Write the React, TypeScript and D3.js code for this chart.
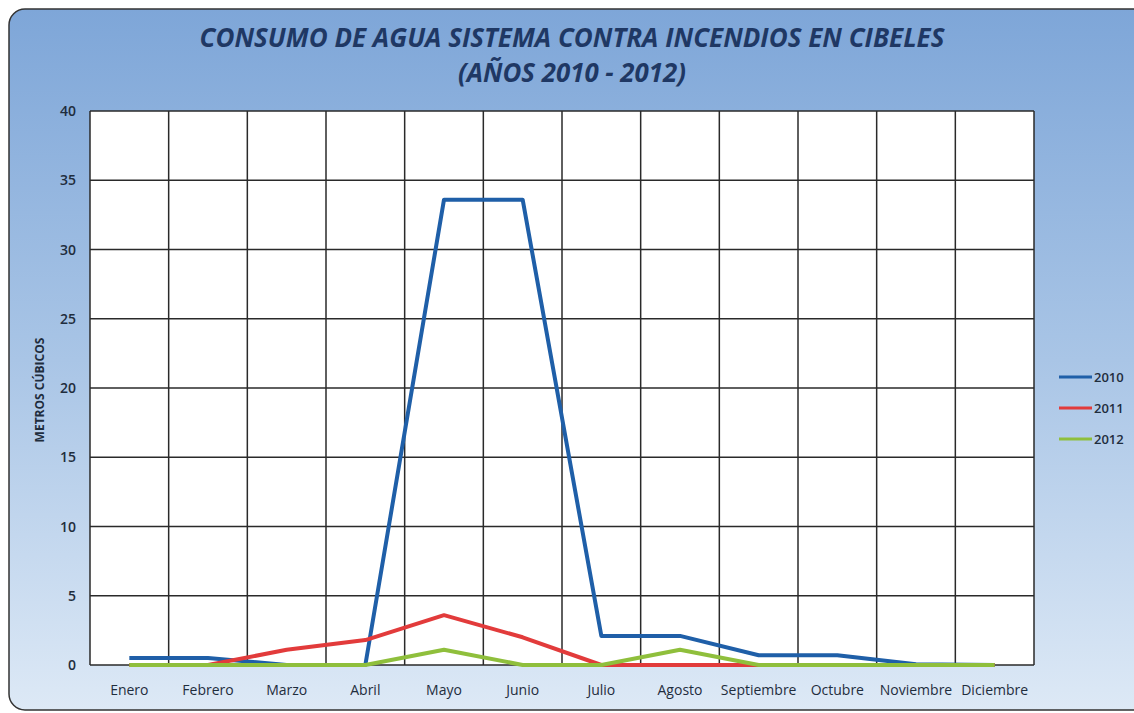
import React from "react";
import * as d3 from "d3";

const months = ["Enero","Febrero","Marzo","Abril","Mayo","Junio","Julio","Agosto","Septiembre","Octubre","Noviembre","Diciembre"];
const s2010 = [0.5, 0.5, 0, 0, 33.6, 33.6, 2.1, 2.1, 0.7, 0.7, 0.05, 0];
const s2011 = [0, 0, 1.1, 1.8, 3.6, 2.0, 0, 0, 0, 0, 0, 0];
const s2012 = [0, 0, 0, 0, 1.1, 0, 0, 1.1, 0, 0, 0, 0];
const yTicks = [0, 5, 10, 15, 20, 25, 30, 35, 40];
const seriesNames = ["2010", "2011", "2012"];
const seriesColors = ["#1f5fa8", "#e23b3b", "#8fbf3c"];

export default function App() {
  const W = 1134, H = 713;
  const left = 90, right = 1034, top = 111, bottom = 665;
  const x = d3.scaleBand().domain(months).range([left, right]);
  const y = d3.scaleLinear().domain([0, 40]).range([bottom, top]);
  const line = d3.line<number>().x((_, i) => (x(months[i]) as number) + x.bandwidth() / 2).y(d => y(d));
  const all = [s2010, s2011, s2012];
  const font = "Open Sans, Noto Sans, sans-serif";
  return (
    <svg width={W} height={H} style={{ position: "absolute", left: 0, top: 0 }}>
      <defs>
        <linearGradient id="bg" x1="0" y1="0" x2="0" y2="1">
          <stop offset="0" stopColor="#7ea6d8" />
          <stop offset="0.5" stopColor="#a9c5e6" />
          <stop offset="1" stopColor="#dde9f6" />
        </linearGradient>
      </defs>
      <rect x={0} y={0} width={W} height={H} fill="#ffffff" />
      <rect x={9} y={9} width={W + 20} height={H - 12} rx={16} fill="url(#bg)" stroke="#333" strokeWidth={1.5} />
      <text x={572} y={47} textAnchor="middle" fontFamily={font} fontWeight="bold" fontStyle="italic" fontSize={27} fill="#1f3864" textLength={745} lengthAdjust="spacingAndGlyphs">CONSUMO DE AGUA SISTEMA CONTRA INCENDIOS EN CIBELES</text>
      <text x={572} y={82} textAnchor="middle" fontFamily={font} fontWeight="bold" fontStyle="italic" fontSize={27} fill="#1f3864" textLength={228} lengthAdjust="spacingAndGlyphs">(AÑOS 2010 - 2012)</text>
      <rect x={left} y={top} width={right - left} height={bottom - top} fill="#ffffff" />
      {yTicks.map(t => (
        <g key={t}>
          <line x1={left} x2={right} y1={y(t)} y2={y(t)} stroke="#2a2a2a" strokeWidth={1.5} />
          <text x={76} y={y(t) + 5} textAnchor="end" fontFamily={font} fontSize={14} fontWeight={600} fill="#1f2d3d">{t}</text>
        </g>
      ))}
      {months.map(m => (
        <line key={m} x1={x(m)} x2={x(m)} y1={top} y2={bottom} stroke="#2a2a2a" strokeWidth={1.5} />
      ))}
      <line x1={right} x2={right} y1={top} y2={bottom} stroke="#2a2a2a" strokeWidth={1.5} />
      {months.map(m => (
        <text key={m} x={(x(m) as number) + x.bandwidth() / 2} y={695} textAnchor="middle" fontFamily={font} fontSize={14} fill="#1f2d3d">{m}</text>
      ))}
      <text transform={`translate(44,390) rotate(-90)`} textAnchor="middle" fontFamily={font} fontSize={12} fontWeight="bold" fill="#1f2d3d">METROS CÚBICOS</text>
      {all.map((s, i) => (
        <path key={i} d={line(s) || ""} fill="none" stroke={seriesColors[i]} strokeWidth={4} strokeLinejoin="round" />
      ))}
      {seriesNames.map((n, i) => (
        <g key={n}>
          <line x1={1059} x2={1092} y1={377 + i * 31} y2={377 + i * 31} stroke={seriesColors[i]} strokeWidth={3} />
          <text x={1094} y={382 + i * 31} fontFamily={font} fontSize={13} fontWeight={600} fill="#1f2d3d">{n}</text>
        </g>
      ))}
    </svg>
  );
}
